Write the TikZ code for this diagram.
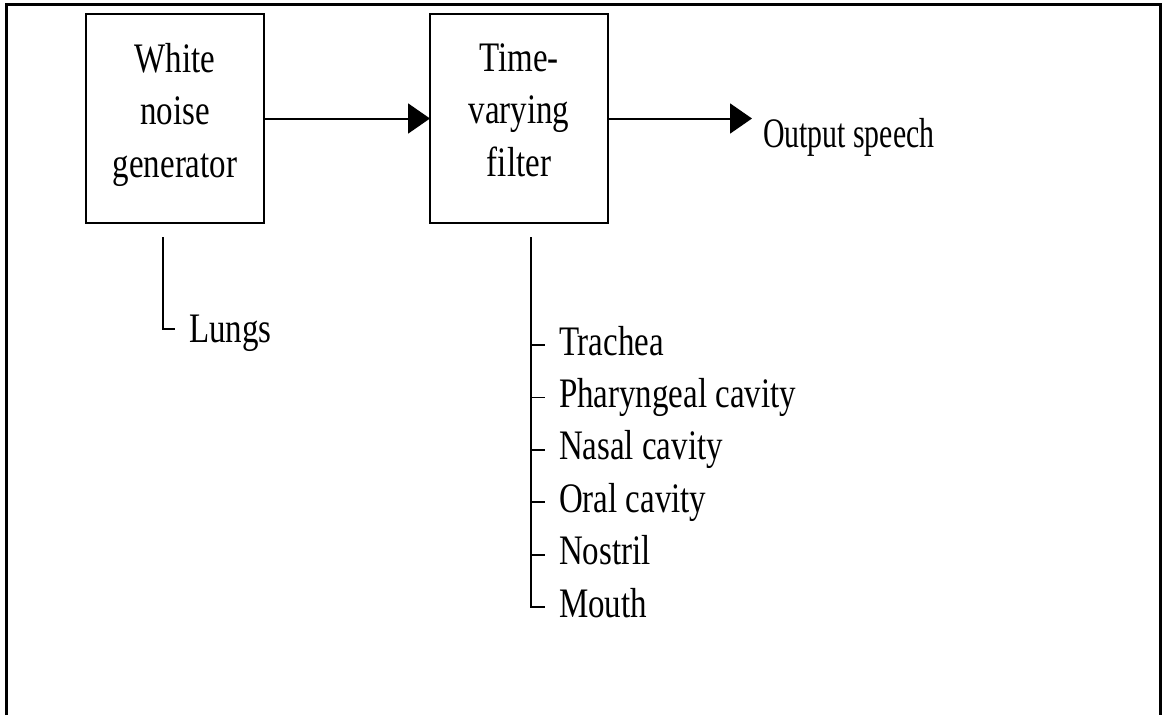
\documentclass[tikz,border=0pt]{standalone}
\usepackage{fontspec}
\usepackage{graphicx}
\setmainfont{Liberation Serif}[FakeStretch=0.785]
\newfontfamily\narrowserif{Liberation Serif}[FakeStretch=0.71]
\usetikzlibrary{arrows.meta}
\begin{document}
\begin{tikzpicture}[x=1pt,y=-1pt,
  every node/.style={inner sep=0pt, outer sep=0pt},
  blk/.style={draw, line width=2pt, minimum width=178pt, minimum height=209pt,
    align=center, font=\fontsize{42}{52.5}\selectfont},
  lbl/.style={anchor=base west, font=\fontsize{42}{52.5}\selectfont},
  flow/.style={line width=2pt, -{Triangle[length=22pt,width=30pt]}},
  stem/.style={line width=1.8pt}]
\useasboundingbox (0,0) rectangle (1162,715);

% page frame, open at the bottom
\draw[line width=3pt] (6.5,715) -- (6.5,4.5) -- (1162,4.5);
\draw[line width=2.5pt] (1160.5,3) -- (1160.5,715);

% blocks
\node[blk] (wng) at (175,118.5) {White\\noise\\generator\rule[-17pt]{0pt}{17pt}};
\node[blk] (tvf) at (519,118.5) {Time-\\varying\\filter\rule[-17pt]{0pt}{17pt}};
\coordinate (out) at (752,118.5);

\draw[flow] (wng.east) -- (tvf.west);
\draw[flow] (tvf.east) -- (out);
\node[lbl, font=\fontsize{42}{52.5}\narrowserif] (speech) at (763,147) {Output speech};

% source organ
\coordinate (ltop) at (163,237);
\node[lbl] (lungs) at (189,342) {Lungs};
\coordinate (lungs-t) at ([shift={(-14,-13)}]lungs.base west);
\draw[stem] (ltop) -- (ltop |- lungs-t) -- (lungs-t);

% filter organs
\coordinate (ftop) at (531,237);
\node[lbl] (trachea) at (559,355) {Trachea};
\node[lbl] (phar)    at (559,407.4) {Pharyngeal cavity};
\node[lbl] (nasal)   at (559,459.8) {Nasal cavity};
\node[lbl] (oral)    at (559,512.2) {Oral cavity};
\node[lbl] (nostril) at (559,564.6) {Nostril};
\node[lbl] (mouth)   at (559,617) {Mouth};
\foreach \n in {trachea,phar,nasal,oral,nostril,mouth}
  \coordinate (\n-t) at ([shift={(-14,-10)}]\n.base west);

\draw[stem] (ftop) -- (ftop |- mouth-t) -- (mouth-t);
\foreach \n in {trachea,phar,nasal,oral,nostril}
  \draw[stem] (ftop |- \n-t) -- (\n-t);
\end{tikzpicture}
\end{document}
